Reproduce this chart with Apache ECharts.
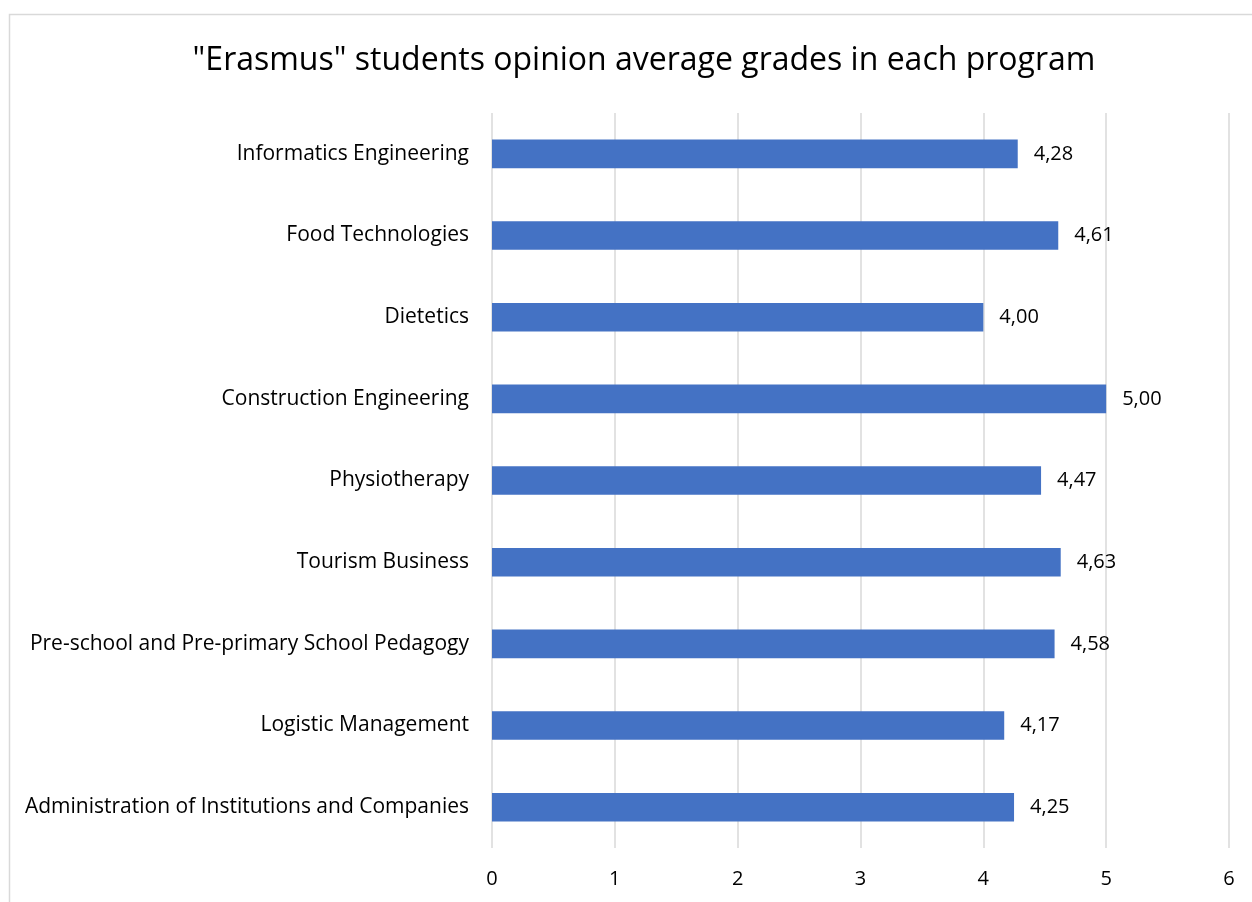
<!DOCTYPE html>
<html>
<head>
<meta charset="utf-8">
<script src="https://cdn.jsdelivr.net/npm/echarts@6/dist/echarts.min.js"></script>
<style>
  html, body { margin: 0; padding: 0; background: #fff; }
  #chart { width: 1252px; height: 902px; }
</style>
</head>
<body>
<div id="chart"></div>
<script>
// 类目（从上到下）
const programs = [
    'Informatics Engineering',
    'Food Technologies',
    'Dietetics',
    'Construction Engineering',
    'Physiotherapy',
    'Tourism Business',
    'Pre-school and Pre-primary School Pedagogy',
    'Logistic Management',
    'Administration of Institutions and Companies'
];
const grades = [4.28, 4.61, 4.00, 5.00, 4.47, 4.63, 4.58, 4.17, 4.25];
const xTicks = [0, 1, 2, 3, 4, 5, 6];

const fontFamily = '"Open Sans", sans-serif';
const chart = echarts.init(document.getElementById('chart'));

const option = {
    animation: false,
    textStyle: { fontFamily: fontFamily },
    title: {
        text: '"Erasmus" students opinion average grades in each program',
        left: 639,
        top: 40,
        textAlign: 'center',
        textStyle: {
            fontFamily: fontFamily,
            fontSize: 32,
            fontWeight: 'normal',
            color: '#000'
        }
    },
    graphic: [{
        type: 'rect',
        shape: { x: 9.5, y: 14.5, width: 1300, height: 1000 },
        style: { fill: 'none', stroke: '#d9d9d9', lineWidth: 1.5 },
        silent: true
    }],
    grid: {
        left: 492,
        right: 23,
        top: 113,
        bottom: 54
    },
    xAxis: {
        type: 'value',
        min: xTicks[0],
        max: xTicks[xTicks.length - 1],
        interval: 1,
        axisLine: { show: false },
        axisTick: { show: false },
        axisLabel: {
            margin: 21,
            fontSize: 20,
            color: '#000'
        },
        splitLine: {
            lineStyle: { color: '#d9d9d9', width: 1.5 }
        }
    },
    yAxis: {
        type: 'category',
        data: programs,
        inverse: true,
        axisLine: { show: false },
        axisTick: { show: false },
        axisLabel: {
            margin: 23,
            fontSize: 21,
            color: '#000'
        },
        splitLine: { show: false }
    },
    series: [{
        type: 'bar',
        data: grades,
        barWidth: '35%',
        itemStyle: { color: '#4472c4' },
        label: {
            show: true,
            position: 'right',
            distance: 16,
            fontSize: 20,
            color: '#000',
            formatter: function (p) {
                return p.value.toFixed(2).replace('.', ',');
            }
        }
    }]
};

chart.setOption(option);
</script>
</body>
</html>
